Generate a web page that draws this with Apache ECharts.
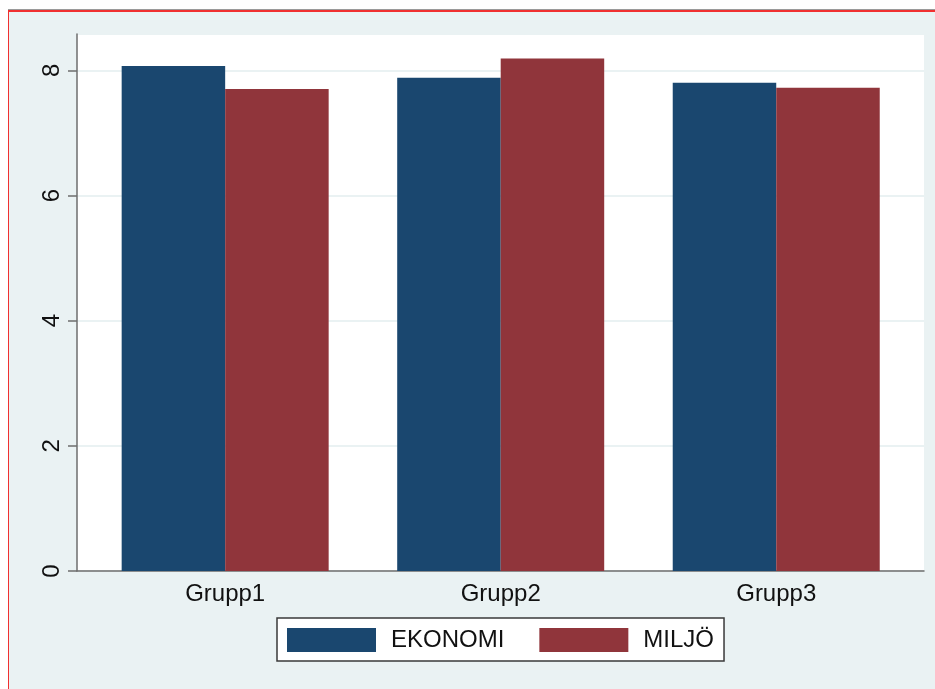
<!DOCTYPE html>
<html>
<head>
<meta charset="utf-8">
<script src="https://cdn.jsdelivr.net/npm/echarts@6/dist/echarts.min.js"></script>
<style>
  html, body { margin: 0; padding: 0; background: #ffffff; width: 935px; height: 689px; overflow: hidden; }
  #frame { position: absolute; left: 8px; top: 9px; width: 1000px; height: 1000px; background: #eaf2f3; border-top: 1px solid #9a9a9a; }
  #frame2 { position: absolute; left: 8px; top: 10px; width: 1000px; height: 1000px; border-top: 2px solid #f03030; border-left: 1.5px solid #f03030; box-sizing: border-box; }
  #chart { position: absolute; left: 0; top: 0; width: 935px; height: 689px; }
</style>
</head>
<body>
<div id="frame"></div>
<div id="frame2"></div>
<div id="chart"></div>
<script>
const categories = ['Grupp1', 'Grupp2', 'Grupp3'];
const ekonomi = [8.07, 7.88, 7.80];
const miljo = [7.70, 8.19, 7.72];
const seriesNames = ['EKONOMI', 'MILJÖ'];
const yTicks = [0, 2, 4, 6, 8];

const FONT = 'Liberation Sans, Arial, sans-serif';
const chart = echarts.init(document.getElementById('chart'), null, { renderer: 'canvas' });
const yMax = 8.58;

chart.setOption({
  backgroundColor: 'transparent',
  animation: false,
  textStyle: { fontFamily: FONT },
  grid: [
    { left: 77, right: 11, top: 34, bottom: 118, show: true, backgroundColor: '#ffffff', borderWidth: 0 },
    { left: 87.4, right: 21, top: 34, bottom: 118 }
  ],
  legend: {
    data: seriesNames,
    left: 277, top: 618,
    orient: 'horizontal',
    padding: [10, 10, 9, 10],
    itemWidth: 89, itemHeight: 24, itemGap: 35,
    icon: 'rect',
    backgroundColor: '#ffffff',
    borderColor: '#3a3a3a', borderWidth: 1.5,
    textStyle: { fontFamily: FONT, fontSize: 24, color: '#111', padding: [0, 0, 0, 10] }
  },
  xAxis: [
    { type: 'value', gridIndex: 0, min: 0, max: 1, position: 'bottom',
      axisLine: { show: true, lineStyle: { color: '#6e6e6e', width: 1.5 } },
      axisTick: { show: false }, axisLabel: { show: false }, splitLine: { show: false } },
    { type: 'category', gridIndex: 1, data: categories,
      axisLine: { show: false }, axisTick: { show: false },
      axisLabel: { margin: 11, fontSize: 24, color: '#111', fontFamily: FONT } }
  ],
  yAxis: [
    { type: 'value', gridIndex: 0, min: 0, max: yMax, interval: 2,
      axisLine: { show: true, lineStyle: { color: '#6e6e6e', width: 1.5 } },
      axisTick: { show: true, length: 9, lineStyle: { color: '#6e6e6e', width: 1.5 } },
      axisLabel: { rotate: 90, margin: 13, fontSize: 24, color: '#111', fontFamily: FONT, showMaxLabel: false,
        formatter: v => (yTicks.indexOf(v) >= 0 ? String(v) : '') },
      splitLine: { show: true, lineStyle: { color: '#eaf2f3', width: 2 } } },
    { type: 'value', gridIndex: 1, min: 0, max: yMax, interval: 2, show: false, splitLine: { show: false } }
  ],
  series: [
    { name: seriesNames[0], type: 'bar', xAxisIndex: 1, yAxisIndex: 1, data: ekonomi,
      barWidth: 103.5, barGap: '0%', itemStyle: { color: '#1a476f' } },
    { name: seriesNames[1], type: 'bar', xAxisIndex: 1, yAxisIndex: 1, data: miljo,
      barWidth: 103.5, barGap: '0%', itemStyle: { color: '#90353b' } }
  ]
});
</script>
</body>
</html>
